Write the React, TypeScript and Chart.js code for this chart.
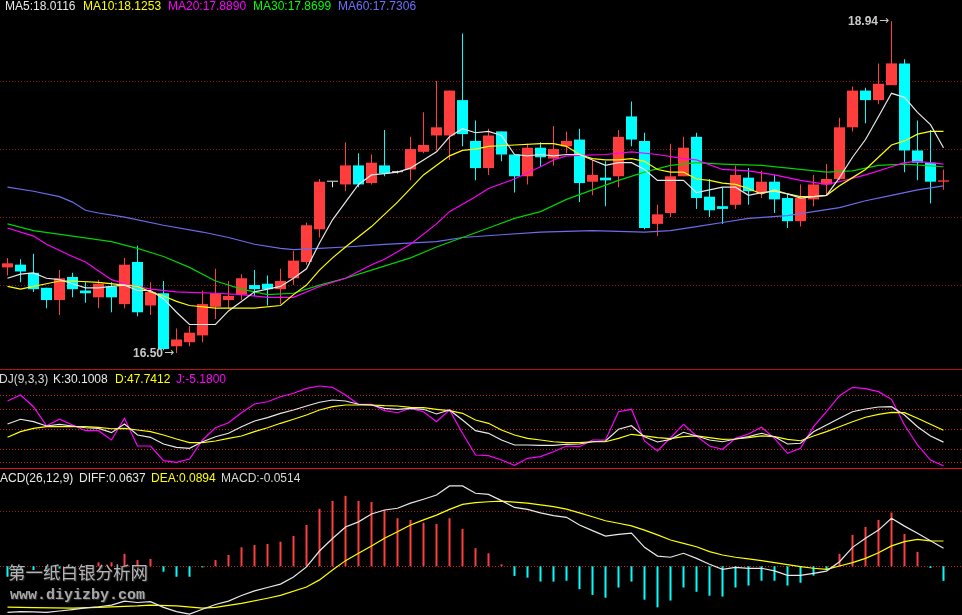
import React, { useEffect, useRef } from "react";
import { Chart, registerables } from "chart.js";

Chart.register(...registerables);

// ---------------- data ----------------
const opens = [17.13,17.15,17.09,16.98,16.89,17.06,16.96,16.91,16.99,16.86,17.17,16.85,16.94,16.55,16.58,16.63,16.84,16.89,16.93,17.00,17.01,16.97,17.05,17.17,17.41,17.76,17.74,17.88,17.75,17.88,17.83,17.85,17.98,18.10,18.10,18.36,18.06,17.86,18.13,17.96,17.80,18.01,17.93,18.02,18.07,17.76,17.79,17.80,18.24,18.06,17.45,17.53,17.80,18.09,17.65,17.58,17.59,17.79,17.68,17.76,17.64,17.47,17.63,17.74,17.78,18.16,18.43,18.36,18.47,18.63,17.99,17.90,17.76];
const highs = [17.20,17.19,17.23,16.98,17.11,17.09,17.02,17.04,17.02,17.20,17.29,17.02,17.03,16.68,16.70,16.96,17.12,17.03,17.08,17.11,17.07,17.12,17.25,17.46,17.78,17.76,18.05,17.97,17.96,18.14,17.84,18.09,18.27,18.50,18.43,18.85,18.21,18.15,18.13,17.96,18.04,18.05,18.17,18.13,18.15,17.92,17.91,18.14,18.35,18.12,17.59,18.04,18.09,18.12,17.78,17.72,17.88,17.86,17.84,17.81,17.67,17.74,17.81,17.89,18.23,18.46,18.45,18.63,18.94,18.66,18.21,18.14,17.85];
const lows = [17.07,17.02,16.95,16.83,16.78,16.91,16.87,16.83,16.80,16.83,16.77,16.78,16.52,16.50,16.55,16.58,16.75,16.83,16.89,16.92,16.85,16.86,17.00,17.15,17.35,17.72,17.69,17.72,17.74,17.80,17.82,17.77,17.97,17.99,17.92,18.02,17.77,17.81,17.91,17.68,17.74,17.87,17.88,17.97,17.61,17.66,17.58,17.72,18.02,17.41,17.36,17.50,17.80,17.56,17.50,17.45,17.56,17.59,17.64,17.53,17.42,17.43,17.58,17.66,17.77,18.13,18.19,18.33,18.47,17.83,17.77,17.60,17.70];
const closes = [17.16,17.10,16.97,16.89,17.05,16.97,16.94,17.01,16.91,17.15,16.80,16.95,16.53,16.60,16.65,16.86,16.94,16.92,17.05,16.97,16.97,17.03,17.18,17.44,17.76,17.76,17.88,17.74,17.90,17.82,17.83,18.00,18.03,18.16,18.43,18.11,17.86,18.10,17.96,17.80,18.01,17.94,18.00,18.06,17.75,17.81,17.77,18.09,18.07,17.42,17.52,17.80,18.01,17.64,17.55,17.56,17.81,17.69,17.76,17.63,17.47,17.64,17.74,17.78,18.16,18.43,18.36,18.48,18.63,17.99,17.90,17.76,17.77];

const ma5 = [17.05,17.08,17.09,17.05,17.04,17.01,16.98,16.98,16.99,17.00,16.96,16.96,16.90,16.80,16.71,16.71,16.71,16.81,16.88,16.95,16.97,16.99,17.05,17.12,17.31,17.48,17.61,17.74,17.81,17.82,17.83,17.86,17.92,17.98,18.09,18.15,18.12,18.13,18.10,17.96,17.95,17.96,17.95,17.96,17.96,17.92,17.88,17.90,17.90,17.85,17.77,17.77,17.77,17.68,17.70,17.72,17.72,17.66,17.68,17.69,17.67,17.64,17.65,17.66,17.79,17.94,18.07,18.24,18.41,18.38,18.27,18.18,18.01];
const ma10: [number, number][] = [[0,16.99],[1,16.97],[2,16.99],[3,17.01],[4,17.03],[5,17.03],[7,17.02],[9,17.00],[10,16.99],[11,16.95],[12,16.92],[13,16.88],[14,16.85],[16,16.83],[19,16.83],[21,16.85],[22,16.93],[23,17.00],[24,17.11],[25,17.20],[26,17.28],[28,17.43],[30,17.61],[32,17.81],[34,17.95],[35,17.99],[36,18.00],[37,18.02],[39,18.03],[41,18.04],[42,18.04],[43,18.02],[44,17.96],[45,17.93],[46,17.92],[47,17.92],[48,17.93],[49,17.91],[50,17.85],[51,17.83],[52,17.83],[53,17.78],[54,17.77],[55,17.75],[56,17.74],[57,17.71],[58,17.67],[59,17.70],[60,17.67],[61,17.65],[62,17.65],[63,17.66],[64,17.73],[65,17.79],[66,17.85],[67,17.94],[68,18.03],[69,18.06],[70,18.11],[71,18.13],[72,18.13]];
const ma20: [number, number][] = [[0,17.42],[2,17.36],[3,17.30],[5,17.21],[6,17.17],[8,17.04],[9,17.01],[11,16.97],[13,16.95],[16,16.94],[18,16.93],[20,16.91],[22,16.91],[24,16.99],[26,17.05],[28,17.15],[29,17.19],[31,17.30],[33,17.45],[34,17.54],[36,17.65],[37,17.71],[39,17.78],[41,17.87],[42,17.92],[43,17.95],[46,17.96],[48,17.98],[50,17.96],[52,17.93],[53,17.92],[55,17.85],[57,17.84],[59,17.81],[61,17.77],[63,17.74],[64,17.76],[66,17.81],[68,17.87],[69,17.90],[70,17.91],[72,17.89]];
const ma30: [number, number][] = [[0,17.45],[2,17.40],[5,17.36],[8,17.32],[10,17.27],[12,17.21],[14,17.13],[16,17.03],[18,16.97],[20,16.93],[22,16.94],[24,17.00],[26,17.05],[28,17.11],[31,17.20],[33,17.28],[35,17.35],[37,17.42],[39,17.49],[41,17.54],[43,17.63],[45,17.70],[47,17.77],[49,17.83],[51,17.88],[53,17.90],[55,17.89],[58,17.88],[61,17.85],[63,17.83],[65,17.84],[67,17.88],[69,17.89],[72,17.87]];
const ma60: [number, number][] = [[0,17.72],[2,17.69],[4,17.65],[5,17.61],[6,17.55],[7,17.53],[9,17.50],[12,17.44],[15,17.39],[17,17.35],[19,17.30],[21,17.27],[22,17.26],[24,17.27],[26,17.28],[29,17.30],[33,17.32],[35,17.35],[38,17.37],[41,17.39],[45,17.40],[49,17.39],[51,17.40],[53,17.43],[55,17.46],[57,17.49],[60,17.51],[62,17.54],[64,17.57],[66,17.62],[68,17.66],[70,17.70],[72,17.73]];

const kLine = [57.2,64.2,60.6,54.2,56.7,54.2,51.6,50.7,44.2,57.2,40.7,37.3,27.3,22.4,20.9,30.7,38.2,43.3,53.1,61.6,66.6,73.1,78.1,84.0,89.6,93.0,91.5,86.6,85.5,80.6,79.1,80.6,79.1,72.1,78.1,63.1,47.2,43.3,33.3,25.8,25.8,25.4,25.4,26.9,27.3,30.7,31.8,49.3,54.6,38.2,30.3,34.3,44.8,39.3,33.3,30.7,34.8,38.2,43.3,38.2,27.3,28.4,45.7,55.7,65.7,75.5,79.6,82.5,83.0,70.6,53.1,39.3,30.10];
const dLine = [37.3,45.7,50.7,53.1,53.1,53.1,53.1,52.2,50.1,50.7,48.2,45.7,40.7,34.8,29.3,29.3,31.8,35.8,39.3,45.7,51.6,58.2,64.2,70.6,78.1,83.0,85.5,85.5,85.5,84.5,84.0,82.1,81.5,79.1,77.0,73.1,63.1,58.2,48.2,40.7,35.8,33.3,30.7,29.3,29.3,30.7,30.7,35.8,41.8,39.3,36.7,35.2,38.2,39.3,36.7,34.3,34.8,36.7,39.3,38.2,34.3,32.2,39.3,45.7,53.1,60.6,67.2,71.6,74.6,74.0,65.7,56.7,47.74];
const jLine = [91.5,100.4,83.0,54.6,64.2,55.7,47.2,47.2,33.3,65.7,24.3,24.3,2.4,0,4.9,33.3,51.6,59.1,74.0,87.0,90.4,97.9,103.0,110.4,113.9,111.9,100.4,86.6,86.6,77.0,74.0,80.6,75.5,60.6,78.1,43.3,10.9,9.9,3.4,-4.5,6.0,8.4,15.8,24.3,23.3,33.3,33.3,75.5,79.1,31.8,16.9,36.7,56.7,39.3,24.3,19.4,35.8,42.2,52.2,35.8,13.4,20.9,53.1,75.5,99.4,111.9,109.9,105.4,94.0,55.7,25.8,3.4,-5.18];

const diff = [-0.163,-0.160,-0.161,-0.163,-0.158,-0.153,-0.147,-0.143,-0.137,-0.123,-0.128,-0.125,-0.145,-0.160,-0.169,-0.152,-0.135,-0.123,-0.103,-0.087,-0.075,-0.063,-0.038,-0.002,0.054,0.098,0.139,0.157,0.185,0.199,0.205,0.223,0.237,0.252,0.284,0.284,0.258,0.254,0.232,0.208,0.201,0.189,0.179,0.173,0.146,0.126,0.107,0.113,0.117,0.067,0.036,0.032,0.046,0.028,0.007,-0.011,-0.004,-0.007,-0.007,-0.016,-0.032,-0.032,-0.025,-0.017,0.016,0.067,0.099,0.128,0.170,0.142,0.117,0.090,0.0637];
const dea: [number, number][] = [[0,-0.144],[2,-0.146],[5,-0.148],[7,-0.145],[10,-0.140],[11,-0.137],[13,-0.140],[15,-0.148],[16,-0.145],[18,-0.131],[20,-0.113],[21,-0.103],[23,-0.073],[24,-0.048],[25,-0.013],[26,0.020],[27,0.046],[28,0.072],[29,0.099],[30,0.122],[31,0.146],[32,0.164],[33,0.181],[34,0.201],[35,0.219],[36,0.225],[37,0.228],[38,0.230],[39,0.227],[40,0.223],[41,0.217],[42,0.211],[43,0.202],[44,0.189],[45,0.175],[46,0.161],[47,0.152],[48,0.143],[49,0.128],[50,0.111],[51,0.093],[52,0.081],[53,0.069],[54,0.052],[55,0.040],[56,0.032],[57,0.026],[58,0.020],[59,0.013],[60,0.006],[61,-0.001],[62,-0.007],[63,-0.011],[64,0.001],[65,0.013],[66,0.028],[67,0.048],[68,0.072],[69,0.087],[70,0.095],[71,0.090],[72,0.0894]];
const macdBars = [-0.037,-0.013,-0.013,-0.012,-0.008,-0.006,0.003,0.014,0.014,0.044,0.022,0.026,-0.019,-0.037,-0.037,-0.004,0.022,0.040,0.067,0.075,0.079,0.087,0.107,0.146,0.203,0.231,0.249,0.231,0.227,0.199,0.170,0.164,0.154,0.150,0.170,0.132,0.064,0.046,0.007,-0.034,-0.040,-0.054,-0.054,-0.051,-0.081,-0.101,-0.111,-0.075,-0.054,-0.118,-0.145,-0.121,-0.075,-0.090,-0.104,-0.107,-0.075,-0.068,-0.051,-0.051,-0.068,-0.058,-0.033,-0.012,0.044,0.111,0.139,0.164,0.190,0.114,0.051,-0.006,-0.0514];

const mainGrid = [17, 17.5, 18, 18.5];
const kdjGrid = [0, 20, 50, 80, 100];
const macdGrid = [0.194, 0];

const maLabels = ["MA5:18.0116", "MA10:18.1253", "MA20:17.8890", "MA30:17.8699", "MA60:17.7306"];
const kdjLabels = ["KDJ(9,3,3)", "K:30.1008", "D:47.7412", "J:-5.1800"];
const macdLabels = ["MACD(26,12,9)", "DIFF:0.0637", "DEA:0.0894", "MACD:-0.0514"];
const highLabel = "18.94";
const lowLabel = "16.50";

// ---------------- styling ----------------
const W = 962;
const X_MIN = -7.5 / 13;
const X_MAX = X_MIN + W / 13;
const RED = "#ff3d3d";
const CYAN = "#00ffff";
const WHITE = "#e8e8e8";
const YELLOW = "#ffff00";
const MAGENTA = "#ff00ff";
const GREEN = "#00d200";
const BLUE = "#6c6cec";

const candleColor = (i: number) =>
  closes[i] > opens[i] ? RED : closes[i] < opens[i] ? CYAN : WHITE;

const full = (arr: number[]) => arr.map((y, x) => ({ x, y }));
const pairs = (arr: [number, number][]) => arr.map(([x, y]) => ({ x, y }));

const lineDs = (data: any[], color: string, width = 1.2) => ({
  type: "line",
  data,
  borderColor: color,
  borderWidth: width,
  pointRadius: 0,
  tension: 0,
  fill: false,
  order: 0,
});

const gridPlugin = {
  id: "hgrid",
  beforeDatasetsDraw(chart: any, _args: any, opts: any) {
    const { ctx, chartArea, scales } = chart;
    ctx.save();
    for (const l of opts.lines || []) {
      const py = Math.round(scales.y.getPixelForValue(l.v)) + 0.5;
      ctx.strokeStyle = l.color;
      ctx.lineWidth = 1;
      ctx.setLineDash([1, 2]);
      ctx.beginPath();
      ctx.moveTo(chartArea.left, py);
      ctx.lineTo(chartArea.right, py);
      ctx.stroke();
    }
    ctx.restore();
  },
};

const baseOptions = (yMin: number, yMax: number, lines: any[]) => ({
  animation: false,
  responsive: false,
  maintainAspectRatio: false,
  events: [],
  layout: { padding: 0 },
  plugins: {
    legend: { display: false },
    tooltip: { enabled: false },
    hgrid: { lines },
  },
  scales: {
    x: { type: "linear", min: X_MIN, max: X_MAX, display: false, offset: false },
    y: { type: "linear", min: yMin, max: yMax, display: false },
  },
});

const txt = (left: number, top: number, color: string, extra: any = {}) => ({
  position: "absolute" as const,
  left,
  top,
  color,
  whiteSpace: "nowrap" as const,
  fontFamily: '"Liberation Sans", Arial, sans-serif',
  fontSize: 12,
  lineHeight: "14px",
  ...extra,
});

export default function App() {
  const mainRef = useRef<HTMLCanvasElement>(null);
  const kdjRef = useRef<HTMLCanvasElement>(null);
  const macdRef = useRef<HTMLCanvasElement>(null);

  useEffect(() => {
    document.body.style.margin = "0";
    document.body.style.background = "#000";
    const idx = opens.map((_, i) => i);

    const main = new Chart(mainRef.current as HTMLCanvasElement, {
      type: "bar",
      data: {
        datasets: [
          lineDs(full(ma5), WHITE),
          lineDs(pairs(ma10), YELLOW),
          lineDs(pairs(ma20), MAGENTA),
          lineDs(pairs(ma30), GREEN),
          lineDs(pairs(ma60), BLUE),
          {
            type: "bar",
            data: idx.map((i) => ({ x: i, y: [opens[i], closes[i]] })),
            backgroundColor: idx.map(candleColor),
            barThickness: 11,
            minBarLength: 1,
            grouped: false,
            borderWidth: 0,
            inflateAmount: 0,
            order: 1,
          },
          {
            type: "bar",
            data: idx.map((i) => ({ x: i, y: [lows[i], highs[i]] })),
            backgroundColor: idx.map(candleColor),
            barThickness: 1,
            grouped: false,
            borderWidth: 0,
            inflateAmount: 0,
            order: 2,
          },
        ] as any,
      },
      options: baseOptions(16.383, 19.096, mainGrid.map((v) => ({ v, color: "#8c1616" }))) as any,
      plugins: [gridPlugin] as any,
    });

    const kdj = new Chart(kdjRef.current as HTMLCanvasElement, {
      type: "line",
      data: {
        datasets: [
          lineDs(full(kLine), WHITE),
          lineDs(full(dLine), YELLOW),
          lineDs(full(jLine), MAGENTA),
        ] as any,
      },
      options: baseOptions(-10, 139.25, kdjGrid.map((v) => ({ v, color: "#c8281e" }))) as any,
      plugins: [gridPlugin] as any,
    });

    const macd = new Chart(macdRef.current as HTMLCanvasElement, {
      type: "bar",
      data: {
        datasets: [
          lineDs(full(diff), WHITE),
          lineDs(pairs(dea), YELLOW),
          {
            type: "bar",
            data: idx.map((i) => ({ x: i, y: macdBars[i] })),
            backgroundColor: macdBars.map((v) => (v >= 0 ? RED : CYAN)),
            barThickness: 2,
            grouped: false,
            borderWidth: 0,
            inflateAmount: 0,
            order: 1,
          },
        ] as any,
      },
      options: baseOptions(-0.1721, 0.3438, [
        { v: macdGrid[0], color: "#a01c16" },
        { v: macdGrid[1], color: "#d02018" },
      ]) as any,
      plugins: [gridPlugin] as any,
    });

    return () => {
      main.destroy();
      kdj.destroy();
      macd.destroy();
    };
  }, []);

  const maColors = [WHITE, YELLOW, MAGENTA, "#00ff00", "#7070ff"];
  const maLeft = [5, 83, 168, 253, 338];
  const kdjColors = ["#d8d8d8", WHITE, YELLOW, MAGENTA];
  const kdjLeft = [-9, 53, 115, 176];
  const macdColors = [WHITE, WHITE, YELLOW, "#d8d8d8"];
  const macdLeft = [-10, 79, 151, 221];

  return (
    <div
      style={{
        position: "fixed",
        left: 0,
        top: 0,
        width: W,
        height: 615,
        background: "#000",
        overflow: "hidden",
      }}
    >
      <canvas ref={mainRef} width={W} height={369} style={{ position: "absolute", left: 0, top: 0 }} />
      <canvas ref={kdjRef} width={W} height={100} style={{ position: "absolute", left: 0, top: 369 }} />
      <canvas ref={macdRef} width={W} height={146} style={{ position: "absolute", left: 0, top: 469 }} />
      <div style={{ position: "absolute", left: 0, top: 369, width: W, height: 1, background: "#b01414" }} />
      <div style={{ position: "absolute", left: 0, top: 468, width: W, height: 1, background: "#e01010" }} />

      {maLabels.map((s, i) => (
        <span key={s} style={txt(maLeft[i], -1, maColors[i])}>{s}</span>
      ))}
      {kdjLabels.map((s, i) => (
        <span key={s} style={txt(kdjLeft[i], 372, kdjColors[i])}>{s}</span>
      ))}
      {macdLabels.map((s, i) => (
        <span key={s} style={txt(macdLeft[i], 471, macdColors[i])}>{s}</span>
      ))}

      <span style={txt(848, 14, "#c8c8c8", { fontWeight: "bold" })}>{highLabel}</span>
      <span style={txt(879, 13, "#c8c8c8", { fontFamily: '"DejaVu Sans", sans-serif' })}>→</span>
      <span style={txt(133, 346, "#c8c8c8", { fontWeight: "bold" })}>{lowLabel}</span>
      <span style={txt(164, 345, "#c8c8c8", { fontFamily: '"DejaVu Sans", sans-serif' })}>→</span>

      <span
        style={txt(8, 562, "#b4b4b4", {
          fontFamily: '"Noto Sans CJK SC", sans-serif',
          fontSize: 17.5,
          lineHeight: "20px",
          textShadow: "1px 1px 1px #333",
        })}
      >
        第一纸白银分析网
      </span>
      <span
        style={txt(10, 588, "#a8a8a8", {
          fontFamily: '"Liberation Mono", monospace',
          fontSize: 15,
          fontWeight: "bold",
          lineHeight: "15px",
          textShadow: "1px 1px 1px #333",
        })}
      >
        www.diyizby.com
      </span>
    </div>
  );
}
